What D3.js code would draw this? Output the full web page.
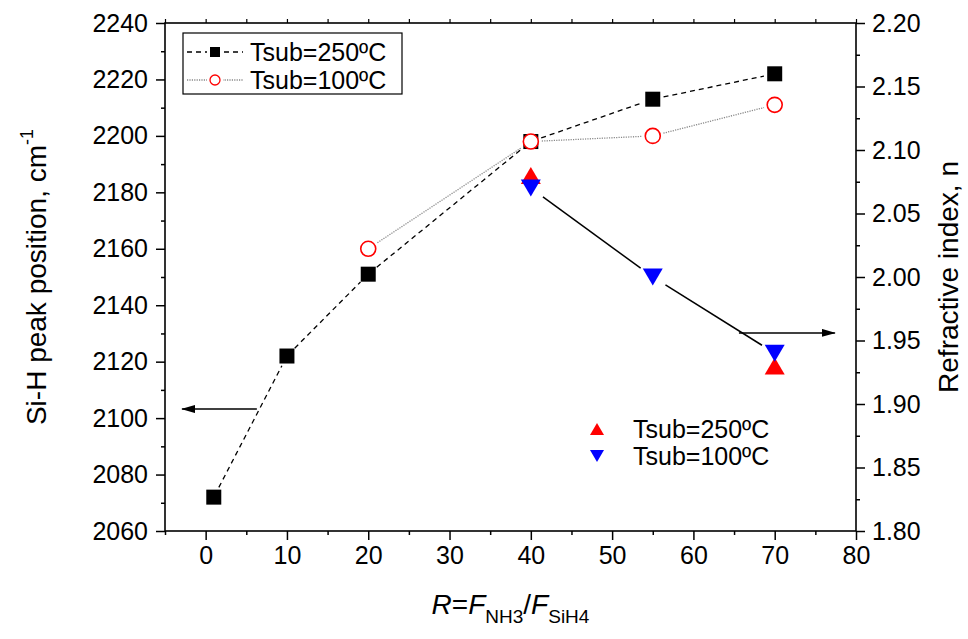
<!DOCTYPE html>
<html>
<head>
<meta charset="utf-8">
<script src="https://cdn.jsdelivr.net/npm/d3@7"></script>
<style>
  body { margin: 0; background: #fff; }
  svg { display: block; font-family: "Liberation Sans", Arial, sans-serif; }
</style>
</head>
<body>
<div id="viz"></div>
<script>
// Si-H peak position (left axis)
const ratio250 = [1, 10, 20, 40, 55, 70];
const peak250 = [2072, 2122, 2151, 2198, 2213, 2222];
const ratio100 = [20, 40, 55, 70];
const peak100 = [2160, 2198, 2200, 2211];

// refractive index (right axis)
const nRatio250 = [40, 70];
const nIndex250 = [2.08, 1.93];
const nRatio100 = [40, 55, 70];
const nIndex100 = [2.07, 2.00, 1.94];

const xTicks = [0, 10, 20, 30, 40, 50, 60, 70, 80];
const yLeftTicks = [2060, 2080, 2100, 2120, 2140, 2160, 2180, 2200, 2220, 2240];
const yRightTicks = [1.80, 1.85, 1.90, 1.95, 2.00, 2.05, 2.10, 2.15, 2.20];

const W = 968, H = 639;
const plot = { left: 165, right: 856, top: 23, bottom: 531 };

const svg = d3.select("#viz").append("svg")
  .attr("width", W)
  .attr("height", H);

const x = d3.scaleLinear().domain([-5, 80]).range([plot.left, plot.right]);
const yL = d3.scaleLinear().domain([2060, 2240]).range([plot.bottom, plot.top]);
const yR = d3.scaleLinear().domain([1.80, 2.20]).range([plot.bottom, plot.top]);

const defs = svg.append("defs");
defs.append("marker")
  .attr("id", "arrowHead")
  .attr("viewBox", "0 0 14 8")
  .attr("refX", 13)
  .attr("refY", 4)
  .attr("markerWidth", 14)
  .attr("markerHeight", 8)
  .attr("markerUnits", "userSpaceOnUse")
  .attr("orient", "auto")
  .append("path")
  .attr("d", "M0,0 L14,4 L0,8 Z")
  .attr("fill", "#000");

// axes
const fontTick = 25;
const minorX = d3.range(-5, 81, 5).filter(v => !xTicks.includes(v));

svg.append("g")
  .attr("transform", `translate(0,${plot.bottom})`)
  .call(d3.axisBottom(x).tickValues(xTicks).tickSize(9).tickPadding(6).tickFormat(d3.format("d")))
  .call(g => g.select(".domain").remove())
  .call(g => g.selectAll("text").attr("font-size", fontTick).attr("font-family", "Liberation Sans, Arial, sans-serif").attr("fill", "#000"))
  .call(g => g.selectAll("line").attr("stroke-width", 1.5));

svg.append("g")
  .attr("transform", `translate(0,${plot.bottom})`)
  .call(d3.axisBottom(x).tickValues(minorX).tickSize(4).tickFormat(""))
  .call(g => g.select(".domain").remove())
  .call(g => g.selectAll("line").attr("stroke-width", 1.5));

svg.append("g")
  .attr("transform", `translate(0,${plot.top})`)
  .call(d3.axisTop(x).tickValues(d3.range(-5, 81, 5)).tickSize(4).tickFormat(""))
  .call(g => g.select(".domain").remove())
  .call(g => g.selectAll("line").attr("stroke-width", 1.2));

svg.append("g")
  .attr("transform", `translate(${plot.left},0)`)
  .call(d3.axisLeft(yL).tickValues(yLeftTicks).tickSize(9).tickPadding(8).tickFormat(d3.format("d")))
  .call(g => g.select(".domain").remove())
  .call(g => g.selectAll("text").attr("font-size", fontTick).attr("font-family", "Liberation Sans, Arial, sans-serif").attr("fill", "#000"))
  .call(g => g.selectAll("line").attr("stroke-width", 1.5));

svg.append("g")
  .attr("transform", `translate(${plot.left},0)`)
  .call(d3.axisLeft(yL).tickValues(d3.range(2070, 2240, 20)).tickSize(4).tickFormat(""))
  .call(g => g.select(".domain").remove())
  .call(g => g.selectAll("line").attr("stroke-width", 1.5));

svg.append("g")
  .attr("transform", `translate(${plot.right},0)`)
  .call(d3.axisRight(yR).tickValues(yRightTicks).tickSize(9).tickPadding(7).tickFormat(d3.format(".2f")))
  .call(g => g.select(".domain").remove())
  .call(g => g.selectAll("text").attr("font-size", fontTick).attr("font-family", "Liberation Sans, Arial, sans-serif").attr("fill", "#000"))
  .call(g => g.selectAll("line").attr("stroke-width", 1.5));

svg.append("g")
  .attr("transform", `translate(${plot.right},0)`)
  .call(d3.axisRight(yR).tickValues(d3.range(1.825, 2.2, 0.05)).tickSize(4).tickFormat(""))
  .call(g => g.select(".domain").remove())
  .call(g => g.selectAll("line").attr("stroke-width", 1.5));

svg.append("rect")
  .attr("x", plot.left)
  .attr("y", plot.top)
  .attr("width", plot.right - plot.left)
  .attr("height", plot.bottom - plot.top)
  .attr("fill", "none")
  .attr("stroke", "#000")
  .attr("stroke-width", 1.6);

// axis titles
svg.append("text")
  .attr("transform", `translate(46,${(plot.top + plot.bottom) / 2}) rotate(-90)`)
  .attr("text-anchor", "middle")
  .attr("font-size", 28)
  .text("Si-H peak position, cm")
  .append("tspan")
  .attr("font-size", 18)
  .attr("dy", -13)
  .text("-1");

svg.append("text")
  .attr("transform", `translate(958,${(plot.top + plot.bottom) / 2}) rotate(-90)`)
  .attr("text-anchor", "middle")
  .attr("font-size", 28)
  .text("Refractive index, n");

const xTitle = svg.append("text")
  .attr("x", (plot.left + plot.right) / 2)
  .attr("y", 614)
  .attr("text-anchor", "middle")
  .attr("font-size", 28);
xTitle.append("tspan").attr("font-style", "italic").text("R");
xTitle.append("tspan").text("=");
xTitle.append("tspan").attr("font-style", "italic").text("F");
xTitle.append("tspan").attr("font-size", 19).attr("dy", 9).text("NH3");
xTitle.append("tspan").attr("dy", -9).text("/");
xTitle.append("tspan").attr("font-style", "italic").text("F");
xTitle.append("tspan").attr("font-size", 19).attr("dy", 9).text("SiH4");

// connecting lines, trimmed around the markers
function trimmedSegments(g, pts, gap, style) {
  for (let i = 0; i < pts.length - 1; i++) {
    const [x1, y1] = pts[i], [x2, y2] = pts[i + 1];
    const len = Math.hypot(x2 - x1, y2 - y1);
    if (len <= 2 * gap) continue;
    const ux = (x2 - x1) / len, uy = (y2 - y1) / len;
    const line = g.append("line")
      .attr("x1", x1 + ux * gap).attr("y1", y1 + uy * gap)
      .attr("x2", x2 - ux * gap).attr("y2", y2 - uy * gap);
    Object.entries(style).forEach(([k, v]) => line.attr(k, v));
  }
}

const dashed = { stroke: "#000", "stroke-width": 1.3, "stroke-dasharray": "5,4" };
const dotted = { stroke: "#888", "stroke-width": 1.3, "stroke-dasharray": "1.2,1.2" };
const solid = { stroke: "#000", "stroke-width": 1.5 };

const lines = svg.append("g");
trimmedSegments(lines, ratio250.map((r, i) => [x(r), yL(peak250[i])]), 11, dashed);
trimmedSegments(lines, ratio100.map((r, i) => [x(r), yL(peak100[i])]), 11, dotted);
trimmedSegments(lines, nRatio100.map((r, i) => [x(r), yR(nIndex100[i])]), 15, solid);

// arrows pointing to the axes
svg.append("line")
  .attr("x1", x(6.3)).attr("x2", x(-2.9))
  .attr("y1", yL(2103.2)).attr("y2", yL(2103.2))
  .attr("stroke", "#000").attr("stroke-width", 1.5)
  .attr("marker-end", "url(#arrowHead)");
svg.append("line")
  .attr("x1", x(65.6)).attr("x2", x(77.4))
  .attr("y1", yR(1.956)).attr("y2", yR(1.956))
  .attr("stroke", "#000").attr("stroke-width", 1.5)
  .attr("marker-end", "url(#arrowHead)");

// markers
function triPath(w, h, up) {
  return up
    ? `M0,${-h / 2} L${w / 2},${h / 2} L${-w / 2},${h / 2} Z`
    : `M0,${h / 2} L${w / 2},${-h / 2} L${-w / 2},${-h / 2} Z`;
}

const marks = svg.append("g");
marks.selectAll(".sq")
  .data(ratio250.map((r, i) => [r, peak250[i]]))
  .enter().append("rect")
  .attr("x", d => x(d[0]) - 7.5)
  .attr("y", d => yL(d[1]) - 7.5)
  .attr("width", 15).attr("height", 15)
  .attr("fill", "#000");

marks.selectAll(".circ")
  .data(ratio100.map((r, i) => [r, peak100[i]]))
  .enter().append("circle")
  .attr("cx", d => x(d[0]))
  .attr("cy", d => yL(d[1]))
  .attr("r", 7.5)
  .attr("fill", "#fff")
  .attr("stroke", "#f00")
  .attr("stroke-width", 1.6);

marks.selectAll(".up")
  .data(nRatio250.map((r, i) => [r, nIndex250[i]]))
  .enter().append("path")
  .attr("transform", d => `translate(${x(d[0])},${yR(d[1])})`)
  .attr("d", triPath(20, 17, true))
  .attr("fill", "#f00");

marks.selectAll(".down")
  .data(nRatio100.map((r, i) => [r, nIndex100[i]]))
  .enter().append("path")
  .attr("transform", d => `translate(${x(d[0])},${yR(d[1])})`)
  .attr("d", triPath(20, 17, false))
  .attr("fill", "#00f");

// legend, top left
const leg1 = svg.append("g");
leg1.append("rect")
  .attr("x", 183).attr("y", 33)
  .attr("width", 219).attr("height", 61)
  .attr("fill", "#fff").attr("stroke", "#000").attr("stroke-width", 1.2);

const legRows = [
  { label: "Tsub=250ºC", y: 52, style: dashed, kind: "square" },
  { label: "Tsub=100ºC", y: 80, style: dotted, kind: "circle" }
];
legRows.forEach(row => {
  trimmedSegments(leg1, [[187, row.y], [215, row.y], [243, row.y]], 0, row.style);
  if (row.kind === "square") {
    leg1.append("rect").attr("x", 215 - 8).attr("y", row.y - 6)
      .attr("width", 16).attr("height", 12).attr("fill", "#fff");
    leg1.append("rect").attr("x", 215 - 5).attr("y", row.y - 5)
      .attr("width", 10).attr("height", 10).attr("fill", "#000");
  } else {
    leg1.append("rect").attr("x", 215 - 8).attr("y", row.y - 7)
      .attr("width", 16).attr("height", 14).attr("fill", "#fff");
    leg1.append("circle").attr("cx", 215).attr("cy", row.y).attr("r", 5)
      .attr("fill", "#fff").attr("stroke", "#f00").attr("stroke-width", 1.3);
  }
  leg1.append("text")
    .attr("x", 250).attr("y", row.y + 9)
    .attr("font-size", 25)
    .text(row.label);
});

// legend, bottom right
const leg2Rows = [
  { label: "Tsub=250ºC", y: 429, up: true, color: "#f00" },
  { label: "Tsub=100ºC", y: 456, up: false, color: "#00f" }
];
leg2Rows.forEach(row => {
  svg.append("path")
    .attr("transform", `translate(597,${row.y})`)
    .attr("d", triPath(14, 12, row.up))
    .attr("fill", row.color);
  svg.append("text")
    .attr("x", 633).attr("y", row.y + 9)
    .attr("font-size", 25)
    .text(row.label);
});
</script>
</body>
</html>
